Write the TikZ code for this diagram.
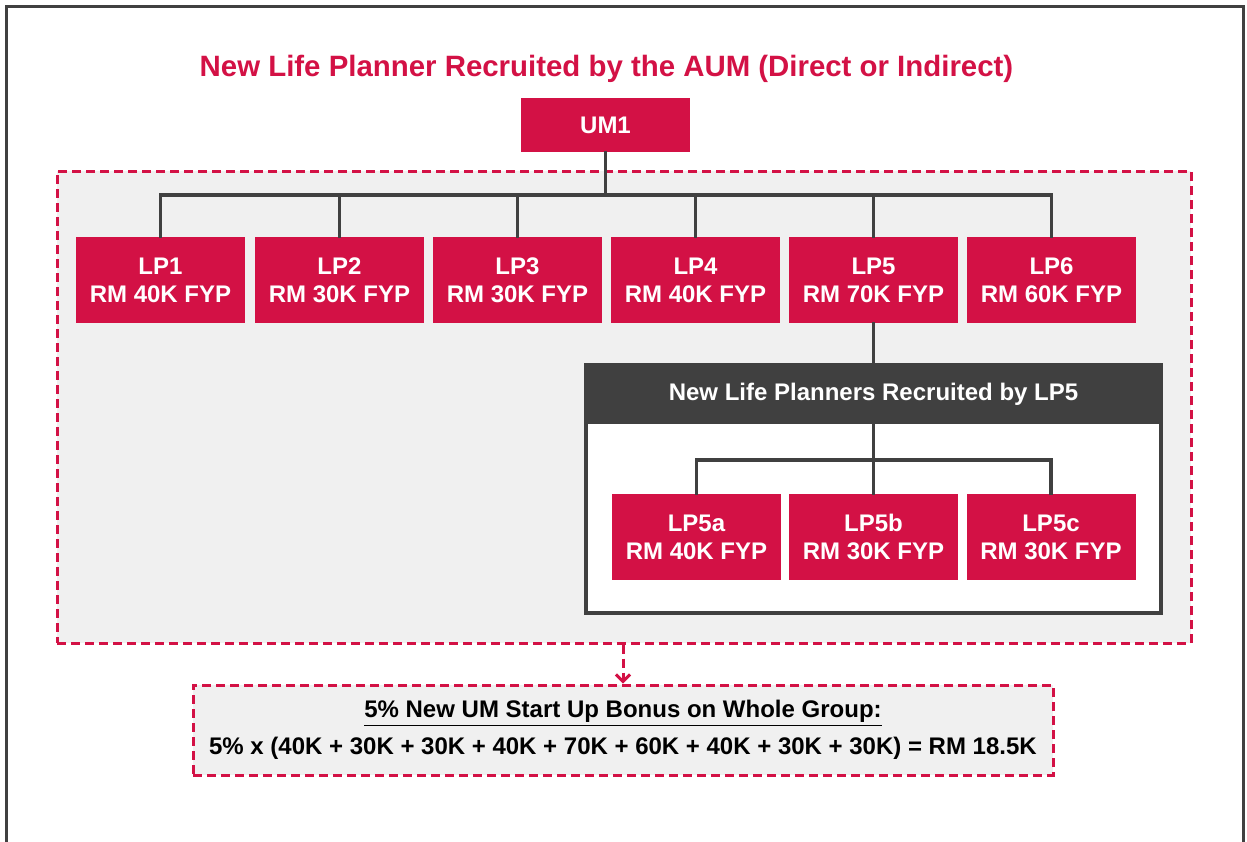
\documentclass[tikz,border=0pt]{standalone}
\usepackage{fontspec}
\setmainfont{Liberation Sans}
\usetikzlibrary{arrows.meta}
\definecolor{crim}{HTML}{D31145}
\definecolor{darkgrey}{HTML}{404040}
\definecolor{pale}{HTML}{F0F0F0}
\begin{document}
\begin{tikzpicture}[x=0.5pt,y=-0.5pt,
  redbox/.style={fill=crim, text=white, align=center,
    font=\bfseries\fontsize{12}{14}\selectfont,
    minimum width=84.5pt, minimum height=43pt, inner sep=0pt},
  link/.style={draw=darkgrey, line width=1.6pt, line cap=rect},
  reddash/.style={draw=crim, line width=1.5pt, dash pattern=on 4.5pt off 2.5pt}]
\useasboundingbox (0,0) rectangle (1247,841);
% outer frame, bottom edge falls off the page
\begin{scope}
  \clip (0,0) rectangle (1247,841);
  \draw[darkgrey, line width=1.5pt] (6,6) rectangle (1243,870);
\end{scope}

% title
\node[text=crim, font=\bfseries\fontsize{14.7}{17}\selectfont] (title) at (606.5,69)
  {New Life Planner Recruited by the AUM (Direct or Indirect)};

% whole group area
\node[reddash, fill=pale, minimum width=567pt, minimum height=236pt, inner sep=0pt]
  (grp) at (624,407) {};

% unit manager
\node[redbox, minimum height=27pt] (um1) at (605.5,125) {UM1};

% direct life planners
\node[redbox] (lp1) at (160.5,280) {LP1\\RM 40K FYP};
\node[redbox] (lp2) at (339.5,280) {LP2\\RM 30K FYP};
\node[redbox] (lp3) at (517.5,280) {LP3\\RM 30K FYP};
\node[redbox] (lp4) at (695.5,280) {LP4\\RM 40K FYP};
\node[redbox] (lp5) at (873.5,280) {LP5\\RM 70K FYP};
\node[redbox] (lp6) at (1051.5,280) {LP6\\RM 60K FYP};

\coordinate (bus) at (605.5,195);
\draw[link] (um1.south) -- (bus);
\draw[link] (lp1.north) |- (bus) -| (lp6.north);
\foreach \k in {2,3,4,5} \draw[link] (lp\k.north) -- (lp\k.north |- bus);

% group recruited by LP5
\node[draw=darkgrey, fill=white, line width=2.3pt, minimum width=287.5pt,
  minimum height=124pt, inner sep=0pt] (sub) at (873.5,489) {};
\node[fill=darkgrey, text=white, font=\bfseries\fontsize{12}{14}\selectfont,
  minimum width=288.65pt, minimum height=29.5pt, inner sep=0pt] (hdr) at (873.5,394.5)
  {New Life Planners Recruited by LP5};
\draw[link] (lp5.south) -- (hdr.north);

\node[redbox] (lp5a) at (696.5,537) {LP5a\\RM 40K FYP};
\node[redbox] (lp5b) at (873.5,537) {LP5b\\RM 30K FYP};
\node[redbox] (lp5c) at (1051,537) {LP5c\\RM 30K FYP};

\coordinate (subbus) at (873.5,460);
\draw[link] (hdr.south) -- (lp5b.north);
\draw[link] (lp5a.north) |- (subbus) -| (lp5c.north);

% bonus summary
\node[reddash, fill=pale, minimum width=430pt, minimum height=45pt, inner sep=0pt,
  align=center, font=\bfseries\fontsize{12}{18.5}\selectfont] (bonus) at (623,730)
  {\underline{5\% New UM Start Up Bonus on Whole Group:}\\
   5\% x (40K + 30K + 30K + 40K + 70K + 60K + 40K + 30K + 30K) = RM 18.5K};
\draw[reddash, -{Straight Barb[length=3.5pt,width=7pt]}] (grp.south -| bonus.north) -- (bonus.north);
\end{tikzpicture}
\end{document}
